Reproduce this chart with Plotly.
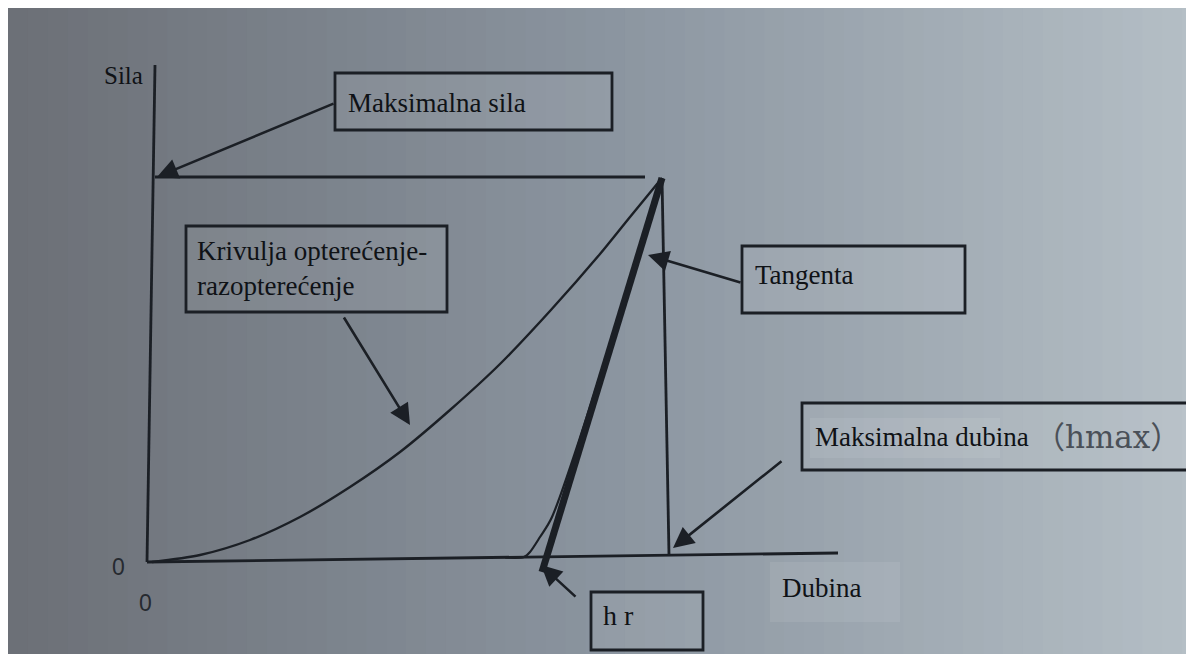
import plotly.graph_objects as go

# coordinates: depth to the right, force upwards, origin at the axis corner
load_depth = [2, 50, 100, 150, 200, 250, 300, 350, 400, 450, 480, 512]
load_force = [0, 7, 22, 45, 75, 110, 152, 198, 251, 308, 345, 384]

unload_depth = [355, 374, 380, 390, 402, 512]
unload_force = [4.5, 5, 10, 25, 45, 384]

tangent_depth = [512, 392]
tangent_force = [384, -10]

fmax_depth = [5, 495]
fmax_force = [385, 385]

hmax_depth = [512, 519]
hmax_force = [384, 7]

yaxis_depth = [-3, 5]
yaxis_force = [0, 497]
xaxis_depth = [-3, 688]
xaxis_force = [0, 9]

ink = "#1b1f25"
serif = "Liberation Serif, Times New Roman, serif"

fig = go.Figure()

def line(x, y, w, shape="linear"):
    fig.add_trace(go.Scatter(x=x, y=y, mode="lines", line=dict(color=ink, width=w, shape=shape, smoothing=0.8),
                             hoverinfo="skip", showlegend=False))

line(yaxis_depth, yaxis_force, 2.8)
line(xaxis_depth, xaxis_force, 2.8)
line(fmax_depth, fmax_force, 2.8)
line(hmax_depth, hmax_force, 2.8)
line(load_depth, load_force, 2.4, "spline")
line(unload_depth, unload_force, 2.2, "spline")
line(tangent_depth, tangent_force, 7)

# photo background: dark grey on the left fading to light blue-grey on the right
shapes = []
left = (108, 112, 119)
mid = (139, 149, 160)
right = (181, 191, 198)
n = 60
for i in range(n):
    t = i / (n - 1)
    if t < 0.5:
        a, b, u = left, mid, t / 0.5
    else:
        a, b, u = mid, right, (t - 0.5) / 0.5
    c = tuple(int(a[k] + (b[k] - a[k]) * u) for k in range(3))
    shapes.append(dict(type="rect", xref="paper", yref="paper", x0=i / n, x1=(i + 1) / n + 0.002,
                       y0=0, y1=1, fillcolor="rgb(%d,%d,%d)" % c, line_width=0, layer="below"))

# light patches behind some labels
for x0, x1, y0, y1 in [(660, 850, 104, 144), (620, 750, -60, 0)]:
    shapes.append(dict(type="rect", x0=x0, x1=x1, y0=y0, y1=y1, fillcolor="rgba(255,255,255,0.08)",
                       line_width=0, layer="below"))

# label boxes
boxes = [(185, 462, 432, 489), (36, 297, 250, 336), (592, 815, 249, 316), (652, 1038, 92, 159), (441, 553, -88, -30)]
for x0, x1, y0, y1 in boxes:
    shapes.append(dict(type="rect", x0=x0, x1=x1, y0=y0, y1=y1, line=dict(color=ink, width=2.8),
                       fillcolor="rgba(255,255,255,0.07)"))

fig.update_layout(shapes=shapes)

# arrows: (tip x, tip y, tail x, tail y)
arrows = [(7, 385, 185, 459), (260, 137, 193, 246), (498, 307, 592, 279), (523, 14, 633, 102), (391, -3, 427, -36)]
for x, y, axv, ayv in arrows:
    fig.add_annotation(x=x, y=y, ax=axv, ay=ayv, xref="x", yref="y", axref="x", ayref="y", text="",
                       showarrow=True, arrowhead=2, arrowsize=1.6, arrowwidth=2.6, arrowcolor=ink)

def label(x, y, s, size=27, color="#0f1216", family=serif, xanchor="left"):
    fig.add_annotation(x=x, y=y, xref="x", yref="y", text=s, showarrow=False, xanchor=xanchor,
                       font=dict(family=family, size=size, color=color))

label(-48, 487, "Sila", 25)
label(196, 459, "Maksimalna sila")
label(45, 311, "Krivulja opterećenje-")
label(45, 276, "razopterećenje")
label(603, 287, "Tangenta")
label(663, 125, "Maksimalna dubina")
label(882, 125, "（hmax）", 31, "#4a5058", "DejaVu Serif, Noto Sans CJK SC")
label(630, -26, "Dubina")
label(451, -53, "h r", 28)
label(-32, -5, "0", 23, "#262a30", "Liberation Sans, Arial", "center")
label(-5, -41, "0", 23, "#262a30", "Liberation Sans, Arial", "center")

# the page adds an 8px margin, so the ranges are shifted to keep the marks where the photo has them
fig.update_layout(
    width=1194, height=654,
    margin=dict(l=0, r=0, t=0, b=0),
    paper_bgcolor="#8a929c", plot_bgcolor="rgba(0,0,0,0)",
    xaxis=dict(range=[-142, 1052], visible=False, fixedrange=True),
    yaxis=dict(range=[-100, 554], visible=False, fixedrange=True),
)

fig.write_html("out.html")
